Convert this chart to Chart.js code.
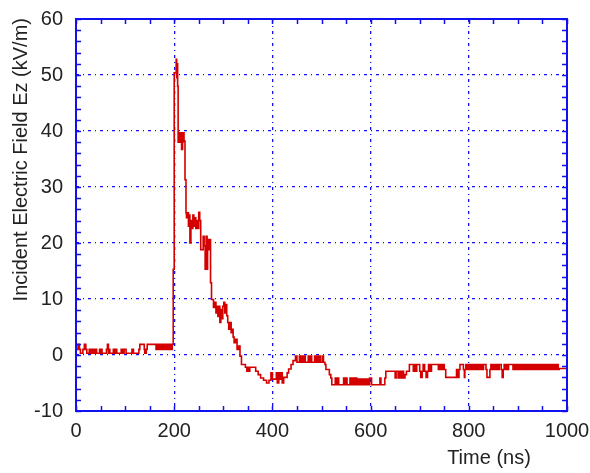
<!DOCTYPE html>
<html>
<head>
<meta charset="utf-8">
<script src="https://cdn.jsdelivr.net/npm/chart.js@4/dist/chart.umd.min.js"></script>
<style>
  html, body { margin: 0; padding: 0; background: #ffffff; }
  #wrap { width: 590px; height: 473px; }
</style>
</head>
<body>
<div id="wrap"><canvas id="c" width="590" height="473"></canvas></div>
<script>
// ---- Data (time in ns, field in kV/m) ----
const baselineSamples = [
  [0,0.7],[4,1.0],[7,1.9],[9,1.0],[14,0.3],[17,1.0],[20,1.9],[22,1.0],[27,0.3],[29,1.0],
  [31,0.3],[33,1.0],[35,0.3],[38,1.0],[40,0.3],[42,1.0],[48,0.3],[50,1.0],[51,0.3],[53,1.0],
  [62,0.3],[64,1.0],[66,1.9],[67,0.3],[69,1.0],[76,0.3],[78,1.0],[80,0.3],[83,1.0],[92,0.3],
  [95,1.0],[98,0.3],[102,1.0],[114,0.3],[117,1.0],[128,0.3],[130,1.0],[139,1.9],[140,1.0],[143,0.3],
  [145,1.0],[163,1.9],[164,1.0],[166,1.9],[168,1.0],[170,1.9],[172,1.0],[174,1.9],[176,1.0],[178,1.9],
  [180,1.0],[182,1.9],[184,1.0],[186,1.9],[188,1.0],[190,1.9],[192,1.0],[194,1.9],[196,1.0],[198,1.9]
];
const pulseSamples = [
  [200,15.3],[204,50.4],[205,52.8],[206,49.5],[207,52.0],[208,48.0],[211,38.0],[213,39.7],[214,38.0],[215,39.7],
  [217,36.7],[218,38.0],[220,39.7],[222,38.2],[224,31.3],[225,25.4],[227,24.5],[229,25.4],[231,23.0],[232,25.0],
  [234,20.0],[236,24.0],[238,22.6],[240,25.0],[242,23.0],[244,24.5],[246,22.6],[248,24.0],[250,22.6],[252,25.5],
  [254,24.0],[256,18.8],[259,18.8],[261,21.2],[263,19.5],[265,15.3],[267,21.2],[268,15.3],[270,20.6],[272,18.8],
  [274,20.6],[276,12.9],[280,9.9],[283,8.5],[285,9.4],[287,7.5],[289,8.7],[291,6.9],[293,8.7],[295,5.8],
  [297,8.1],[299,6.5],[301,8.7],[303,9.4],[305,7.5],[307,9.0],[309,7.0],[311,5.8],[314,4.6],[316,5.8],
  [318,4.0],[320,4.6],[322,3.2],[325,2.2],[328,2.8],[331,1.0],[334,1.6],[337,-0.2],[341,-1.7],[345,-1.7],
  [348,-2.2],[350,-2.9],[352,-2.2],[354,-2.9],[356,-2.2],[366,-2.2],[371,-2.9],[376,-3.5],[382,-4.1],[388,-4.5],
  [393,-5.0],[397,-4.5]
];
const recoverySamples = [
  [400,-3.2],[408,-4.3],[410,-3.2],[413,-5.0],[415,-3.2],[418,-4.3],[420,-3.2],[423,-5.0],[425,-4.0],[430,-4.0],
  [433,-3.2],[438,-2.5],[442,-1.7],[447,-1.0],[450,-0.2],[455,-1.3],[457,-0.2],[460,-1.3],[462,-0.2],[465,-1.3],
  [467,-0.2],[473,-1.3],[475,-0.2],[478,-1.3],[480,-0.2],[486,-1.3],[488,-0.2],[491,-1.3],[493,-0.2],[496,-1.3],
  [498,-0.2],[502,-1.3],[504,-0.2],[507,-1.3],[509,-1.7],[512,-2.6],[516,-2.6],[519,-3.5]
];
const undershootSamples = [
  [521,-4.1],[528,-5.3],[530,-4.1],[533,-5.3],[535,-4.1],[545,-5.3],[547,-4.1],[550,-5.3],[552,-4.1],[558,-5.3],
  [560,-4.1],[563,-5.3],[566,-4.1],[569,-5.3],[572,-4.1],[575,-5.3],[578,-4.3],[581,-5.3],[584,-4.3],[586,-5.3],
  [589,-4.3],[592,-5.3],[595,-4.3],[598,-5.3],[602,-4.1],[619,-5.3],[621,-4.1],[629,-5.3],[631,-4.1],[650,-2.9],
  [652,-4.1],[656,-2.9],[658,-4.1],[661,-2.9],[664,-4.1],[667,-2.9],[670,-4.1],[673,-3.5],[679,-2.9],[687,-1.7],
  [689,-2.9],[692,-1.7],[694,-2.9],[700,-1.7],[702,-2.9],[705,-4.0],[707,-2.9],[710,-1.7],[713,-2.9],[716,-4.0],
  [718,-2.9],[721,-1.7],[724,-2.9],[738,-1.7],[741,-2.6],[744,-1.7],[747,-2.6],[750,-1.7],[753,-2.6],[775,-4.0],
  [777,-2.6],[780,-4.0],[782,-2.6],[786,-1.7]
];
const tailSamples = [
  [789,-1.7],[791,-2.6],[792,-4.0],[794,-2.6],[796,-1.7],[798,-2.6],[800,-1.7],[802,-2.6],[804,-1.7],[806,-2.6],
  [808,-1.7],[810,-2.6],[812,-1.7],[814,-2.6],[816,-1.7],[818,-2.6],[820,-1.7],[822,-2.6],[824,-1.7],[826,-2.6],
  [828,-1.7],[830,-2.6],[835,-1.7],[837,-2.6],[843,-4.0],[845,-2.6],[848,-1.7],[850,-2.6],[852,-1.7],[854,-2.6],
  [856,-1.7],[858,-2.6],[860,-1.7],[862,-2.6],[866,-1.7],[868,-2.6],[870,-4.0],[872,-2.6],[875,-1.7],[877,-2.6],
  [879,-1.7],[881,-2.6],[890,-1.7],[892,-2.6],[894,-1.7],[896,-2.6],[898,-1.7],[900,-2.6],[902,-1.7],[904,-2.6],
  [906,-1.7],[908,-2.6],[910,-1.7],[912,-2.6],[914,-1.7],[916,-2.6],[918,-1.7],[920,-2.6],[922,-1.7],[924,-2.6],
  [926,-1.7],[928,-2.6],[930,-1.7],[932,-2.6],[934,-1.7],[936,-2.6],[938,-1.7],[940,-2.6],[942,-1.7],[944,-2.6],
  [946,-1.7],[948,-2.6],[950,-1.7],[952,-2.6],[954,-1.7],[956,-2.6],[958,-1.7],[960,-2.6],[962,-1.7],[964,-2.6],
  [966,-1.7],[968,-2.6],[970,-1.7],[972,-2.6],[974,-1.7],[976,-2.6],[978,-1.7],[980,-2.6],[982,-1.7],[984,-2.6],
  [990,-2.4],[1000,-2.4]
];
const xTickLabels = [0, 200, 400, 600, 800, 1000];
const yTickLabels = [-10, 0, 10, 20, 30, 40, 50, 60];
const xTitle = 'Time (ns)';
const yTitle = 'Incident Electric Field Ez (kV/m)';

// ---- Build chart data ----
const allSamples = [].concat(baselineSamples, pulseSamples, recoverySamples, undershootSamples, tailSamples);
const points = allSamples.map(p => ({ x: p[0], y: p[1] }));

const BLUE = '#1010f0';
const TEXT = '#222222';
const FONT = "'Liberation Sans', Arial, sans-serif";

const framePlugin = {
  id: 'frame',
  afterDatasetsDraw(chart) {
    const { ctx, chartArea: a, scales: { x, y } } = chart;
    ctx.save();
    ctx.strokeStyle = BLUE;
    ctx.lineWidth = 1.5;
    ctx.beginPath();
    x.ticks.forEach(t => {
      const px = Math.round(x.getPixelForValue(t.value)) + 0.5;
      ctx.moveTo(px, a.bottom); ctx.lineTo(px, a.bottom - 5);
      ctx.moveTo(px, a.top); ctx.lineTo(px, a.top + 5);
    });
    y.ticks.forEach(t => {
      const py = Math.round(y.getPixelForValue(t.value)) + 0.5;
      ctx.moveTo(a.left, py); ctx.lineTo(a.left + 5, py);
      ctx.moveTo(a.right, py); ctx.lineTo(a.right - 5, py);
    });
    ctx.stroke();
    ctx.lineWidth = 2;
    ctx.strokeRect(a.left, a.top, a.right - a.left, a.bottom - a.top);
    ctx.restore();
  },
  afterDraw(chart) {
    const { ctx, chartArea: a } = chart;
    ctx.save();
    ctx.fillStyle = TEXT;
    ctx.font = '20px ' + FONT;
    ctx.textBaseline = 'middle';
    ctx.textAlign = 'center';
    ctx.fillText(xTitle, 489, 458);
    ctx.translate(21, a.top - 1);
    ctx.rotate(-Math.PI / 2);
    ctx.textAlign = 'right';
    ctx.fillText(yTitle, 0, 0);
    ctx.restore();
  }
};

new Chart(document.getElementById('c'), {
  type: 'line',
  data: {
    datasets: [{
      data: points,
      borderColor: '#d40000',
      borderWidth: 1.6,
      pointRadius: 0,
      stepped: 'after',
      fill: false,
      tension: 0
    }]
  },
  options: {
    responsive: false,
    animation: false,
    events: [],
    layout: { padding: { left: 0, right: 23, top: 19, bottom: 0 } },
    plugins: { legend: { display: false }, tooltip: { enabled: false } },
    scales: {
      x: {
        type: 'linear',
        min: 0, max: 1000,
        afterFit: s => { s.height = 62; s.paddingLeft = 0; s.paddingRight = 0; },
        ticks: {
          stepSize: 50,
          autoSkip: false,
          maxRotation: 0,
          padding: 8,
          color: TEXT,
          font: { family: FONT, size: 20 },
          callback: v => xTickLabels.includes(v) ? String(v) : ''
        },
        grid: {
          drawTicks: false,
          lineWidth: 1.3,
          color: c => (c.tick && xTickLabels.includes(c.tick.value) && c.tick.value !== 0 && c.tick.value !== 1000) ? BLUE : 'rgba(0,0,0,0)'
        },
        border: { display: false, dash: [3, 4, 1, 4] }
      },
      y: {
        type: 'linear',
        min: -10, max: 60,
        afterFit: s => { s.width = 76; s.paddingTop = 0; s.paddingBottom = 0; },
        ticks: {
          stepSize: 2,
          autoSkip: false,
          padding: 13,
          color: TEXT,
          font: { family: FONT, size: 20 },
          callback: v => yTickLabels.includes(v) ? String(v) : ''
        },
        grid: {
          drawTicks: false,
          lineWidth: 1.3,
          color: c => (c.tick && yTickLabels.includes(c.tick.value) && c.tick.value !== -10 && c.tick.value !== 60) ? BLUE : 'rgba(0,0,0,0)'
        },
        border: { display: false, dash: [3, 4, 1, 4] }
      }
    }
  },
  plugins: [framePlugin]
});
</script>
</body>
</html>
